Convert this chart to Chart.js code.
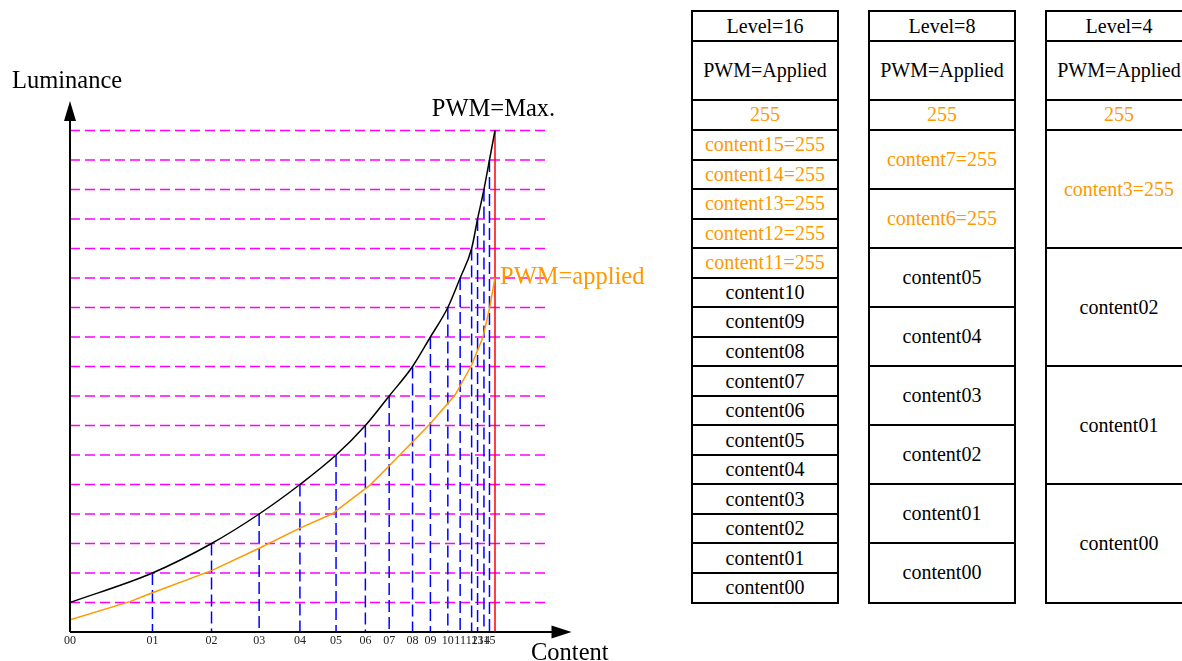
<!DOCTYPE html>
<html>
<head>
<meta charset="utf-8">
<script src="https://cdn.jsdelivr.net/npm/chart.js@4/dist/chart.umd.min.js"></script>
<style>
  html, body { margin:0; padding:0; background:#fff; width:1182px; height:661px; overflow:hidden; }
  #c { position:absolute; left:0; top:0; }
  .cell { position:absolute; box-sizing:border-box; border:2px solid #000; background:#fff;
          display:flex; align-items:center; justify-content:center;
          font-family:"Liberation Serif","Times New Roman",serif; font-size:20px; color:#000; white-space:nowrap; }
  .o { color:#ff9900; }
</style>
</head>
<body>
<canvas id="c" width="660" height="661"></canvas>
<div id="tables"></div>
<script>
// ---- chart data ----
const tickLabels = ['00','01','02','03','04','05','06','07','08','09','10','11','12','13','14','15'];
const tickPos    = [0, 19.4, 33.3, 44.5, 54.1, 62.6, 69.5, 75.1, 80.6, 84.8, 88.9, 91.8, 94.5, 95.9, 97.4, 98.7];
const maxPos     = 100;
const luminanceLevels = [1,2,3,4,5,6,7,8,9,10,11,12,13,14,15,16,17];
const maxCurveX  = [0, 19.4, 33.3, 44.5, 54.1, 62.6, 69.5, 75.1, 80.6, 84.8, 88.9, 91.8, 94.5, 95.9, 97.4, 98.7, 100];
const maxCurveY  = [1,2,3,4,5,6,7,8,9,10,11,12,13,14,15,16,17];
const appliedX   = [0, 14.1, 19.4, 33.3, 44.5, 54.1, 61.6, 70.6, 74.9, 84.7, 90.6, 94.5, 97.2, 98.8, 100];
const appliedY   = [0.41, 1.03, 1.33, 2.08, 2.84, 3.52, 4.0, 4.98, 5.6, 7.05, 8.03, 9.05, 10.01, 11.03, 12.02];
const levelLineEnd = 111.8;

// ---- table texts ----
const headers = [['Level=16','PWM=Applied','255'],['Level=8','PWM=Applied','255'],['Level=4','PWM=Applied','255']];
const table16 = ['content15=255','content14=255','content13=255','content12=255','content11=255','content10','content09','content08','content07','content06','content05','content04','content03','content02','content01','content00'];
const table8  = ['content7=255','content6=255','content05','content04','content03','content02','content01','content00'];
const table4  = ['content3=255','content02','content01','content00'];

// ---- tables (HTML) ----
(function(){
  const host = document.getElementById('tables');
  const lefts = [691, 868, 1045];
  const W = 148;
  const headEdges = [11, 41, 100, 129.5];
  const bodyTop = 130, bodyBot = 602.5;
  const bodies = [table16, table8, table4];
  function cell(x, y0, y1, text){
    const d = document.createElement('div');
    d.className = 'cell' + (text.indexOf('255') >= 0 ? ' o' : '');
    d.style.left = x + 'px'; d.style.width = W + 'px';
    d.style.top = (y0 - 1) + 'px'; d.style.height = (y1 - y0 + 2) + 'px';
    d.textContent = text;
    host.appendChild(d);
  }
  for (let t = 0; t < 3; t++) {
    for (let r = 0; r < 3; r++) cell(lefts[t], headEdges[r], headEdges[r+1], headers[t][r]);
    const rows = bodies[t];
    const h = (bodyBot - bodyTop) / rows.length;
    rows.forEach((txt, i) => cell(lefts[t], bodyTop + i*h, bodyTop + (i+1)*h, txt));
  }
})();

// ---- datasets ----
const datasets = [];
luminanceLevels.forEach(l => datasets.push({
  data: [{x:0, y:l}, {x:levelLineEnd, y:l}],
  borderColor:'#ff00ff', borderWidth:1.5, borderDash:[10,5], order:5
}));
tickPos.forEach((p, i) => { if (i > 0) datasets.push({
  data: [{x:p, y:maxCurveY[i]}, {x:p, y:0}],
  borderColor:'#0000ff', borderWidth:1.5, borderDash:[12,5], order:4
});});
datasets.push({ data:[{x:maxPos, y:0}, {x:maxPos, y:maxCurveY[maxCurveY.length-1]}],
  borderColor:'#ff0000', borderWidth:1.5, order:3 });
datasets.push({ data: appliedX.map((v,i)=>({x:v, y:appliedY[i]})),
  borderColor:'#ff9900', borderWidth:1.5, tension:0, order:2 });
datasets.push({ data: maxCurveX.map((v,i)=>({x:v, y:maxCurveY[i]})),
  borderColor:'#000000', borderWidth:1.5, cubicInterpolationMode:'monotone', order:1 });

const overlay = {
  id:'overlay',
  afterDatasetsDraw(chart){
    const {ctx, scales:{x, y}} = chart;
    const x0 = x.getPixelForValue(0), y0 = y.getPixelForValue(0);
    const xEnd = x.getPixelForValue(x.max), yTop = y.getPixelForValue(y.max);
    ctx.save();
    ctx.strokeStyle = '#000'; ctx.fillStyle = '#000'; ctx.lineWidth = 2;
    ctx.beginPath(); ctx.moveTo(x0, y0); ctx.lineTo(xEnd - 18, y0); ctx.stroke();
    ctx.beginPath(); ctx.moveTo(x0, y0); ctx.lineTo(x0, yTop + 18); ctx.stroke();
    ctx.beginPath(); ctx.moveTo(xEnd, y0); ctx.lineTo(xEnd - 20, y0 - 6.5); ctx.lineTo(xEnd - 20, y0 + 6.5); ctx.closePath(); ctx.fill();
    ctx.beginPath(); ctx.moveTo(x0, yTop); ctx.lineTo(x0 - 6, yTop + 20); ctx.lineTo(x0 + 6, yTop + 20); ctx.closePath(); ctx.fill();
    // tick labels
    ctx.font = '12px "Liberation Serif", serif';
    ctx.textAlign = 'center'; ctx.textBaseline = 'alphabetic';
    ctx.fillStyle = '#222';
    tickLabels.forEach((t, i) => ctx.fillText(t, x.getPixelForValue(tickPos[i]), y0 + 12));
    // titles
    ctx.fillStyle = '#000';
    ctx.font = '24.5px "Liberation Serif", serif';
    ctx.textAlign = 'left';
    ctx.fillText('Luminance', 12, yTop - 13);
    ctx.fillText('Content', xEnd - 40.5, y0 + 28);
    ctx.textAlign = 'center';
    const mx = x.getPixelForValue(maxPos);
    ctx.fillText('PWM=Max.', mx - 1.5, y.getPixelForValue(maxCurveY[maxCurveY.length-1]) - 15);
    ctx.textAlign = 'left';
    ctx.fillStyle = '#ff9900';
    ctx.fillText('PWM=applied', mx + 5, y.getPixelForValue(appliedY[appliedY.length-1]) + 7);
    ctx.restore();
  }
};

new Chart(document.getElementById('c'), {
  type:'line',
  data:{ datasets },
  options:{
    responsive:false, animation:false, devicePixelRatio:1,
    layout:{ padding:{ left:70, right:88.5, top:101, bottom:29 } },
    plugins:{ legend:{display:false}, tooltip:{enabled:false}, title:{display:false} },
    elements:{ point:{ radius:0 } },
    scales:{
      x:{ type:'linear', min:0, max:118, display:false },
      y:{ type:'linear', min:0, max:18, display:false }
    }
  },
  plugins:[overlay]
});
</script>
</body>
</html>
